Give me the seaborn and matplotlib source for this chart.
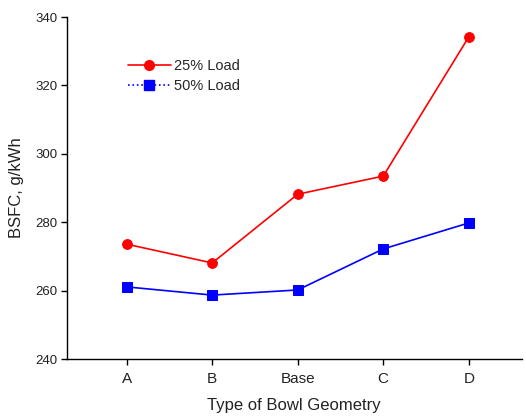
import matplotlib
matplotlib.use("Agg")
import matplotlib.pyplot as plt
from matplotlib.lines import Line2D
import seaborn as sns
import pandas as pd

categories = ["A", "B", "Base", "C", "D"]
load25 = [273.6, 268.1, 288.2, 293.5, 334.2]
load50 = [261.1, 258.7, 260.2, 272.2, 279.8]

sns.set_style("ticks")
plt.rcParams["font.family"] = ["Liberation Sans", "DejaVu Sans"]

fig = plt.figure(figsize=(5.26, 4.17), dpi=100)
ax = fig.add_axes([0.127, 0.139, 0.865, 0.82])

x = list(range(len(categories)))
df25 = pd.DataFrame({"x": x, "y": load25})
df50 = pd.DataFrame({"x": x, "y": load50})
sns.lineplot(data=df25, x="x", y="y", ax=ax, color="#ff0000", marker="o",
             markersize=7, markeredgecolor="#ff0000", linewidth=1.2)
sns.lineplot(data=df50, x="x", y="y", ax=ax, color="#0000ff", marker="s",
             markersize=6.5, markeredgecolor="#0000ff", linewidth=1.2)

ax.set_xlim(-0.7, 4.62)
ax.set_ylim(240, 340)
ax.set_xticks(x)
ax.set_xticklabels(categories)
ax.set_yticks([240, 260, 280, 300, 320, 340])
ax.tick_params(axis="both", length=4, width=1, color="black", labelcolor="#222222")
ax.tick_params(axis="x", labelsize=11, pad=5)
ax.tick_params(axis="y", labelsize=9.5, pad=3)
ax.set_xlabel("Type of Bowl Geometry", fontsize=12, color="#222222", labelpad=9)
ax.set_ylabel("BSFC, g/kWh", fontsize=12, color="#222222", labelpad=8)
for s in ["top", "right"]:
    ax.spines[s].set_visible(False)
for s in ["left", "bottom"]:
    ax.spines[s].set_color("black")
    ax.spines[s].set_linewidth(1)

handles = [
    Line2D([], [], color="#ff0000", marker="o", markersize=7, linewidth=1.2),
    Line2D([], [], color="#0000ff", marker="s", markersize=6.5, linewidth=1.2, linestyle=":"),
]
ax.legend(handles, ["25% Load", "50% Load"], loc="upper left",
          bbox_to_anchor=(0.105, 0.915), frameon=False, fontsize=10.5,
          handlelength=2.95, handletextpad=0.2, labelspacing=0.4)

fig.savefig("out.png", dpi=100)
